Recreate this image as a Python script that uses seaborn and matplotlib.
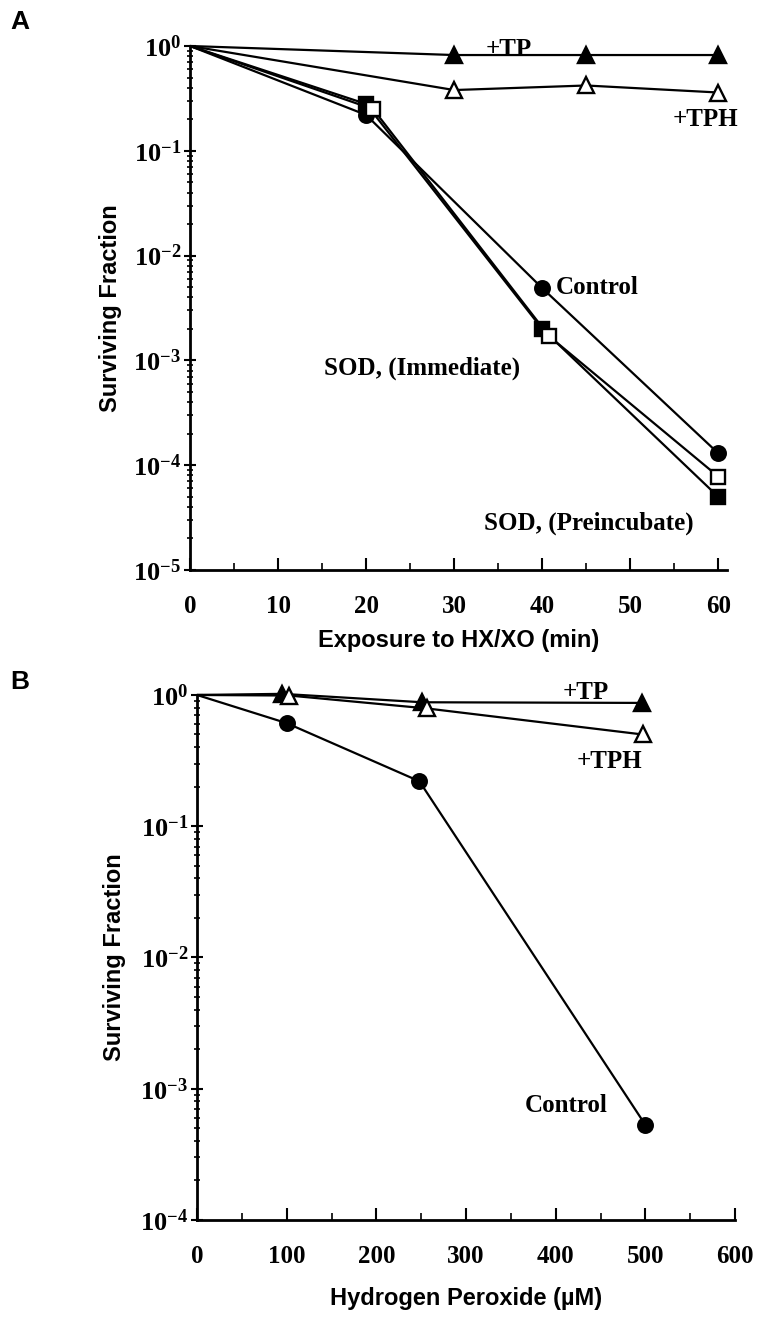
import numpy as np
import pandas as pd
import matplotlib
matplotlib.use('Agg')
import matplotlib.pyplot as plt
import matplotlib.ticker as mticker
import seaborn as sns

# panel A : exposure to HX/XO (min)
a_time = [0, 20, 40, 60]
a_time_tp = [0, 30, 45, 60]
a_time_open = [0, 20.8, 40.8, 60]
a_tp = [1.0, 0.82, 0.82, 0.82]
a_tph = [1.0, 0.38, 0.42, 0.36]
a_control = [1.0, 0.22, 0.0049, 1.3e-4]
a_sod_pre = [1.0, 0.28, 0.0020, 5.0e-5]
a_sod_imm = [1.0, 0.25, 0.0017, 7.8e-5]

# panel B : hydrogen peroxide (uM)
b_dose_tp = [0, 95, 251, 496]
b_dose_tph = [0, 103, 256, 497]
b_dose_ctl = [0, 100, 248, 500]
b_tp = [1.0, 1.02, 0.88, 0.87]
b_tph = [1.0, 0.99, 0.79, 0.50]
b_control = [1.0, 0.61, 0.22, 5.3e-4]

sns.set_style('ticks')
plt.rcParams['font.family'] = ['Liberation Serif', 'DejaVu Serif']
plt.rcParams['mathtext.fontset'] = 'custom'
plt.rcParams['mathtext.rm'] = 'Liberation Serif:bold'
plt.rcParams['mathtext.bf'] = 'Liberation Serif:bold'
plt.rcParams['mathtext.it'] = 'Liberation Serif:bold'
for k in ['text.color', 'axes.labelcolor', 'xtick.color', 'ytick.color', 'axes.edgecolor']:
    plt.rcParams[k] = 'black'

fig = plt.figure(figsize=(7.61, 13.22), dpi=100)
axA = fig.add_axes([0.2497, 0.5688, 0.7057, 0.3964])
axB = fig.add_axes([0.2589, 0.0772, 0.7070, 0.3971])

lw = 1.6


def draw(ax, x, y, marker, filled, ms):
    sns.lineplot(x=x, y=y, ax=ax, color='black', lw=lw, marker=marker,
                 markersize=ms, markerfacecolor='black' if filled else 'white',
                 markeredgecolor='black', markeredgewidth=1.7,
                 markevery=list(range(1, len(x))), sort=False,
                 estimator=None, legend=False, clip_on=False, zorder=3)


def style_axis(ax, ymin_exp, xlim, xmajor, xminor, xlabel, xpad, ypad):
    ax.set_yscale('log')
    ax.set_ylim(10.0 ** ymin_exp, 1.0)
    ax.set_xlim(*xlim)
    ax.yaxis.set_major_locator(mticker.LogLocator(base=10, numticks=10))
    ax.yaxis.set_minor_locator(mticker.LogLocator(base=10, subs=np.arange(2, 10), numticks=10))
    ax.yaxis.set_minor_formatter(mticker.NullFormatter())
    ax.yaxis.set_major_formatter(mticker.FuncFormatter(
        lambda v, p: r'$10^{%d}$' % int(round(np.log10(v)))))
    ax.xaxis.set_major_locator(mticker.MultipleLocator(xmajor))
    ax.xaxis.set_minor_locator(mticker.MultipleLocator(xminor))
    ax.spines['top'].set_visible(False)
    ax.spines['right'].set_visible(False)
    ax.spines['left'].set_linewidth(2)
    ax.spines['bottom'].set_linewidth(2)
    ax.tick_params(axis='y', which='major', direction='inout', length=9, width=1.5,
                   labelsize=19, pad=2)
    ax.tick_params(axis='y', which='minor', direction='inout', length=5, width=1.2)
    ax.tick_params(axis='x', which='major', direction='in', length=9, width=1.5,
                   labelsize=18, pad=18)
    ax.tick_params(axis='x', which='minor', direction='in', length=5, width=1.2)
    for t in ax.get_xticklabels():
        t.set_fontweight('bold')
    ax.set_xlabel(xlabel, fontsize=17, fontweight='bold', family='Liberation Sans',
                  labelpad=xpad)
    ax.set_ylabel('Surviving Fraction', fontsize=17, fontweight='bold',
                  family='Liberation Sans', labelpad=ypad)


# ---- panel A
draw(axA, a_time_tp, a_tp, '^', True, 11)
draw(axA, a_time_tp, a_tph, '^', False, 11)
draw(axA, a_time, a_control, 'o', True, 10.5)
draw(axA, a_time, a_sod_pre, 's', True, 10)
draw(axA, a_time_open, a_sod_imm, 's', False, 10)
style_axis(axA, -5, (0, 61), 10, 5, 'Exposure to HX/XO (min)', 8, 8)
axA.set_xticks([0, 10, 20, 30, 40, 50, 60])

txt = dict(fontsize=18, fontweight='bold', family='Liberation Serif', color='black',
           va='center', ha='center')
axA.text(36.2, 0.93, '+TP', **txt)
axA.text(58.5, 0.20, '+TPH', **txt)
axA.text(46.3, 0.0050, 'Control', **txt)
axA.text(26.3, 0.00085, 'SOD, (Immediate)', **txt)
axA.text(45.3, 2.8e-5, 'SOD, (Preincubate)', **txt)

# ---- panel B
draw(axB, b_dose_tp, b_tp, '^', True, 11)
draw(axB, b_dose_tph, b_tph, '^', False, 11)
draw(axB, b_dose_ctl, b_control, 'o', True, 10.5)
style_axis(axB, -4, (0, 600), 100, 50, 'Hydrogen Peroxide (\u00b5M)', 14, 10)

axB.text(434, 1.05, '+TP', **txt)
axB.text(460, 0.31, '+TPH', **txt)
axB.text(412, 7.5e-4, 'Control', **txt)

fig.text(0.014, 0.983, 'A', fontsize=19, fontweight='bold', family='Liberation Sans',
         va='center')
fig.text(0.014, 0.484, 'B', fontsize=19, fontweight='bold', family='Liberation Sans',
         va='center')

fig.savefig('out.png', dpi=100, facecolor='white')
